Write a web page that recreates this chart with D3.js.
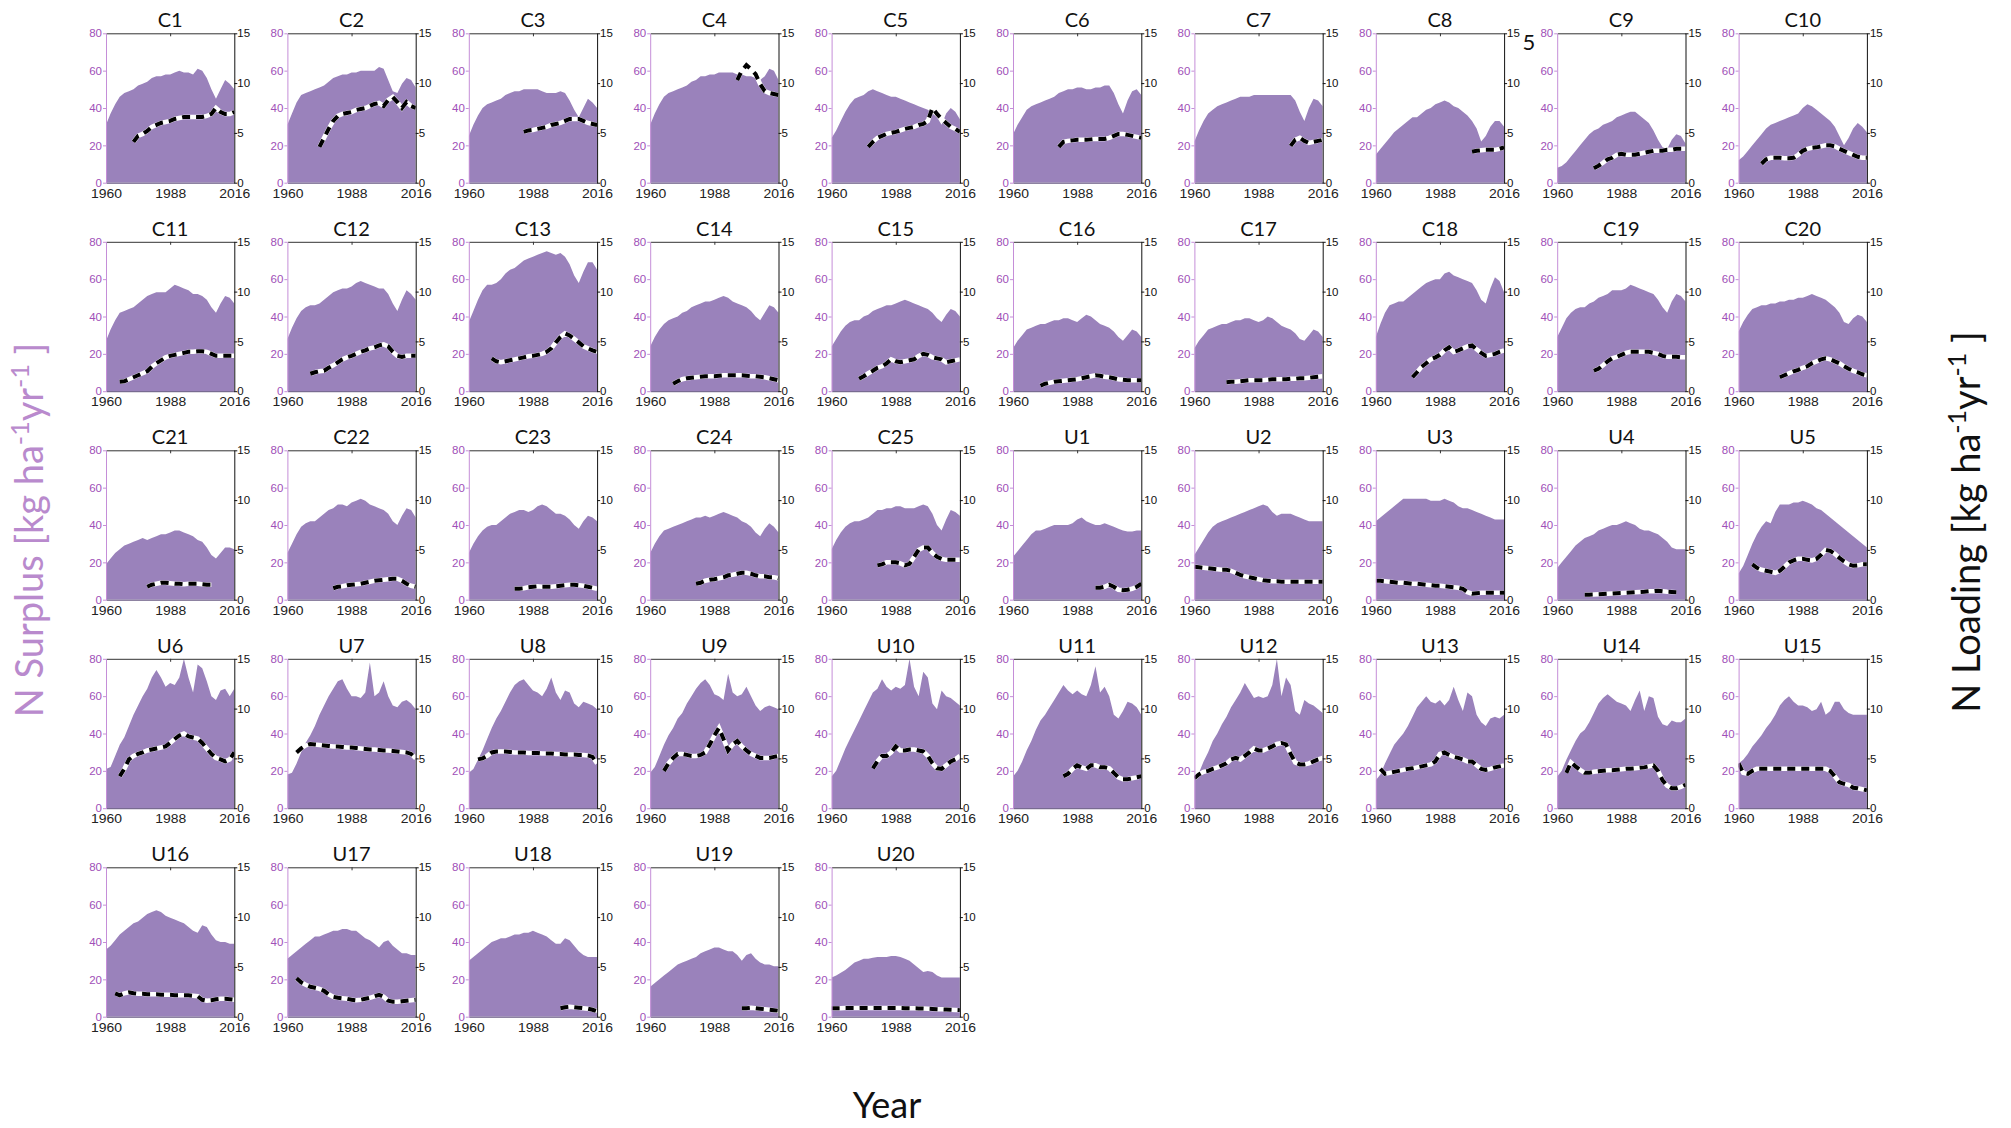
<!DOCTYPE html>
<html>
<head>
<meta charset="utf-8">
<title>N surplus and N loading</title>
<script src="https://cdn.jsdelivr.net/npm/d3@7"></script>
<style>
  body { margin: 0; background: #fff; }
  text { font-family: Lato, "Open Sans", sans-serif; }
  .num { font-family: "Liberation Sans", Arial, sans-serif; }
</style>
</head>
<body>
<script>
var _ = null;

var years = [1960,1962,1964,1966,1968,1970,1972,1974,1976,1978,1980,1982,1984,1986,1988,
             1990,1992,1994,1996,1998,2000,2002,2004,2006,2008,2010,2012,2014,2016];

var panels = ["C1","C2","C3","C4","C5","C6","C7","C8","C9","C10",
              "C11","C12","C13","C14","C15","C16","C17","C18","C19","C20",
              "C21","C22","C23","C24","C25","U1","U2","U3","U4","U5",
              "U6","U7","U8","U9","U10","U11","U12","U13","U14","U15",
              "U16","U17","U18","U19","U20"];

var leftTicks = [0, 20, 40, 60, 80];
var rightTicks = [0, 5, 10, 15];
var yearTicks = [1960, 1988, 2016];

// N surplus, kg/ha/yr (left axis)
var surplus = [
  [31,37,42,46,48,49,50,52,53,54,56,57,57,58,58,59,60,59,59,58,61,60,56,50,45,50,55,53,50],
  [31,37,43,47,48,49,50,51,52,54,56,57,58,58,59,59,60,60,60,60,62,61,55,49,48,53,56,55,51],
  [25,31,36,40,42,43,44,45,47,48,49,49,50,50,50,50,49,48,48,48,49,48,44,39,35,40,45,43,40],
  [31,37,42,46,48,49,50,51,52,54,55,57,57,58,58,59,59,59,59,58,58,57,57,56,55,57,61,60,55],
  [24,28,33,38,42,45,46,47,49,50,49,48,47,46,46,45,44,43,42,41,40,39,37,35,31,37,40,38,34],
  [26,31,35,39,41,42,43,44,45,46,48,49,50,50,51,51,50,50,51,51,52,52,48,42,37,44,49,50,47],
  [22,28,33,37,39,41,42,43,44,45,46,46,46,47,47,47,47,47,47,47,47,47,44,38,33,40,45,44,41],
  [15,18,21,24,27,29,31,33,35,35,37,39,40,42,43,44,43,41,40,38,36,33,29,22,25,30,33,33,30],
  [8,9,11,14,17,20,23,26,28,29,31,32,33,35,36,37,38,38,36,34,32,28,23,19,18,23,26,25,21],
  [12,14,17,20,23,26,29,31,32,33,34,35,36,37,40,42,41,39,37,35,33,30,25,20,24,29,32,30,27],
  [27,33,38,42,43,44,45,47,49,51,52,53,53,53,55,57,56,55,54,52,52,51,49,45,42,47,51,50,47],
  [28,34,39,43,45,46,46,47,49,51,53,54,55,55,56,58,59,58,57,56,55,55,52,47,43,49,54,52,49],
  [37,43,49,54,57,57,58,60,63,65,66,68,70,71,72,73,74,75,74,73,74,72,68,62,58,64,69,69,65],
  [24,29,33,36,38,39,40,42,43,45,46,47,48,48,49,50,51,50,48,47,46,45,43,40,38,42,46,45,42],
  [24,28,32,35,37,38,38,40,41,43,44,45,46,46,47,48,49,48,47,46,45,44,42,39,37,41,44,43,40],
  [23,27,30,33,34,35,36,36,37,38,38,39,39,38,37,39,41,40,38,36,35,34,32,29,27,30,33,32,29],
  [23,27,30,33,34,35,36,36,37,38,38,39,39,38,37,38,40,39,37,35,34,33,31,28,27,30,33,32,29],
  [29,36,42,46,47,48,48,50,52,54,56,58,59,60,60,63,64,62,61,60,59,58,54,49,47,55,61,59,53],
  [29,34,39,42,44,45,45,47,48,50,51,52,54,54,54,55,57,56,55,54,53,52,49,45,42,48,52,51,48],
  [32,37,41,44,45,46,46,47,47,48,48,49,49,50,50,51,52,51,50,49,47,45,42,37,36,39,41,40,37],
  [19,22,25,27,29,30,31,32,33,32,33,34,35,35,36,37,37,36,35,34,32,31,28,24,22,25,28,28,27],
  [25,30,35,39,41,42,42,44,46,48,49,51,51,50,52,53,54,53,51,50,49,48,46,42,40,45,49,48,44],
  [25,30,34,37,39,40,40,42,44,46,47,48,48,47,48,50,51,50,48,46,46,45,43,40,38,42,45,44,42],
  [25,30,34,37,38,39,40,41,42,43,44,44,45,44,45,46,47,46,45,44,42,41,39,36,34,38,41,39,36],
  [27,32,36,39,41,42,42,43,44,46,48,48,49,49,50,50,49,49,49,50,51,50,46,40,37,43,48,47,45],
  [23,26,29,32,35,37,37,38,39,40,40,40,40,41,43,44,42,41,40,40,41,40,39,38,37,36.5,36.5,37,37],
  [24,28,32,36,39,41,42,43,44,45,46,47,48,49,50,51,50,47,45,46,46,46,45,44,43,42,42,42,42],
  [42,44,46,48,50,52,54,54,54,54,54,54,53,53,53,54,53,52,50,49,49,48,47,46,45,44,43,43,43],
  [17,20,23,26,29,31,33,34,35,37,38,39,40,40,41,42,41,40,38,37,37,36,35,33,31,28,27,27,27],
  [14,18,24,30,35,39,42,41,47,51,51,51,52,52,53,52,51,49,48,46,44,42,40,38,36,34,32,30,28],
  [21,22,28,34,38,44,50,55,60,64,70,74,70,65,67,66,70,80,70,62,77,75,68,60,58,63,64,60,64],
  [18,19,24,30,35,39,44,50,55,60,64,68,69,64,60,60,59,62,78,60,62,68,60,55,54,57,58,56,53],
  [19,21,26,31,37,43,48,52,57,62,66,68,69,66,63,62,60,64,70,62,58,63,62,56,54,57,56,55,53],
  [19,22,28,34,39,43,48,51,56,60,64,67,69,66,61,60,58,72,62,60,61,65,60,55,52,54,55,54,53],
  [17,20,26,32,37,42,47,52,57,62,64,69,65,63,65,64,66,80,65,60,73,70,56,53,63,60,59,57,55],
  [17,20,25,31,36,42,47,50,54,58,62,66,63,61,63,61,60,66,76,62,65,60,50,48,52,57,56,54,50],
  [16,19,25,30,36,40,45,49,54,58,62,67,63,59,60,59,60,66,80,60,70,66,52,50,58,56,55,53,51],
  [15,18,24,29,34,37,40,44,49,54,57,60,57,56,58,55,58,65,58,52,62,60,50,46,44,48,49,48,50],
  [17,20,26,31,36,40,42,46,51,56,59,61,59,57,56,55,52,58,63,52,60,59,49,45,44,47,46,46,48],
  [24,26,29,33,36,39,43,46,50,55,58,60,57,55,55,54,52,53,57,50,52,57,57,53,51,50,50,50,50],
  [36,38,41,44,46,48,50,51,53,55,56,57,56,54,53,52,51,50,48,46,45,49,48,44,41,40,40,39,39],
  [31,33,35,37,39,41,43,43,44,45,46,46,47,47,46,46,44,42,41,39,37,40,41,38,36,34,34,33,33],
  [30,32,34,36,38,40,41,42,42,43,44,44,45,45,46,45,44,43,41,39,39,42,41,38,35,33,32,32,32],
  [16,18,20,22,24,26,28,29,30,31,32,34,35,36,37,37,36,35,35,33,30,33,34,31,29,28,28,27,27],
  [21,22,23.5,25,27,29,30,31,31,31.5,32,32,32,32.5,32.5,32,31,30,28,26,24,24.5,24,22,21,21,21,21,21]
];

// N loading, kg/ha/yr (right axis), null = no record
var loading = [
  [_,_,_,_,_,_,4.1,4.7,4.9,5.2,5.6,5.8,6.0,6.1,6.2,6.4,6.5,6.6,6.6,6.6,6.6,6.6,6.7,6.9,7.5,7.1,6.9,6.9,7.1],
  [_,_,_,_,_,_,_,3.6,4.5,5.4,6.2,6.7,6.9,7.0,7.1,7.3,7.4,7.5,7.7,7.9,8.0,7.7,8.3,8.6,8.1,7.5,8.1,7.7,7.5],
  [_,_,_,_,_,_,_,_,_,_,_,_,5.1,5.25,5.3,5.4,5.5,5.6,5.8,5.9,6.0,6.2,6.4,6.4,6.4,6.2,6.0,5.9,5.8],
  [_,_,_,_,_,_,_,_,_,_,_,_,_,_,_,_,_,_,_,10.3,11.25,11.8,11.4,10.9,9.9,9.2,9.0,8.9,8.8],
  [_,_,_,_,_,_,_,_,3.6,4.1,4.5,4.7,4.9,5.0,5.1,5.25,5.4,5.5,5.6,5.8,5.9,6.2,7.5,6.9,6.4,6.0,5.6,5.4,5.1],
  [_,_,_,_,_,_,_,_,_,_,3.6,4.1,4.2,4.25,4.3,4.3,4.3,4.35,4.4,4.4,4.4,4.5,4.7,4.9,4.9,4.8,4.7,4.6,4.5],
  [_,_,_,_,_,_,_,_,_,_,_,_,_,_,_,_,_,_,_,_,_,3.7,4.3,4.5,4.2,4.0,4.1,4.2,4.3],
  [_,_,_,_,_,_,_,_,_,_,_,_,_,_,_,_,_,_,_,_,_,3.1,3.2,3.25,3.3,3.3,3.3,3.4,3.55],
  [_,_,_,_,_,_,_,_,1.45,1.7,2.0,2.35,2.5,2.8,2.9,2.8,2.8,2.8,2.9,3.0,3.1,3.2,3.2,3.2,3.3,3.3,3.4,3.4,3.4],
  [_,_,_,_,_,1.9,2.35,2.5,2.5,2.5,2.45,2.45,2.5,2.8,3.2,3.4,3.5,3.55,3.65,3.75,3.75,3.65,3.4,3.2,3.0,2.8,2.6,2.5,2.5],
  [_,_,_,0.95,1.0,1.2,1.4,1.6,1.8,2.0,2.45,2.8,3.1,3.4,3.55,3.65,3.75,3.85,3.95,3.95,4.0,4.0,3.95,3.75,3.55,3.55,3.55,3.55,3.55],
  [_,_,_,_,_,1.75,1.9,2.0,2.05,2.35,2.6,2.9,3.2,3.4,3.55,3.75,3.95,4.1,4.3,4.4,4.6,4.7,4.5,3.95,3.55,3.45,3.55,3.55,3.55],
  [_,_,_,_,_,3.3,3.0,2.9,3.0,3.1,3.2,3.3,3.4,3.5,3.55,3.65,3.75,3.95,4.3,4.9,5.45,5.8,5.6,5.25,4.9,4.5,4.3,4.1,3.95],
  [_,_,_,_,_,0.75,1.0,1.2,1.3,1.35,1.4,1.45,1.5,1.5,1.5,1.55,1.6,1.6,1.6,1.6,1.6,1.55,1.5,1.5,1.45,1.4,1.3,1.2,1.1],
  [_,_,_,_,_,_,1.25,1.5,1.8,2.05,2.35,2.5,2.8,3.2,3.0,2.9,3.0,3.1,3.2,3.55,3.75,3.65,3.4,3.3,3.2,2.9,3.0,3.1,3.2],
  [_,_,_,_,_,_,0.55,0.75,0.85,0.95,1.0,1.05,1.1,1.15,1.2,1.3,1.4,1.5,1.6,1.55,1.45,1.4,1.3,1.2,1.15,1.1,1.1,1.1,1.1],
  [_,_,_,_,_,_,_,0.9,0.95,0.95,1.0,1.05,1.1,1.1,1.1,1.1,1.15,1.2,1.2,1.2,1.2,1.25,1.25,1.3,1.3,1.35,1.4,1.45,1.5],
  [_,_,_,_,_,_,_,_,1.4,1.9,2.45,2.8,3.2,3.4,3.65,4.1,4.4,3.95,4.1,4.3,4.5,4.6,4.2,3.85,3.55,3.65,3.75,3.95,4.1],
  [_,_,_,_,_,_,_,_,2.05,2.25,2.6,3.0,3.3,3.45,3.65,3.85,3.95,3.95,3.95,3.95,3.95,3.85,3.75,3.55,3.45,3.45,3.45,3.4,3.4],
  [_,_,_,_,_,_,_,_,_,1.4,1.6,1.8,2.0,2.15,2.35,2.5,2.8,3.0,3.2,3.3,3.2,3.0,2.8,2.5,2.25,2.05,1.9,1.7,1.6],
  [_,_,_,_,_,_,_,_,_,1.3,1.5,1.6,1.7,1.7,1.65,1.6,1.6,1.55,1.6,1.6,1.6,1.55,1.5,1.5,_,_,_,_,_],
  [_,_,_,_,_,_,_,_,_,_,1.15,1.3,1.35,1.45,1.5,1.55,1.6,1.7,1.8,1.9,1.95,2.0,2.05,2.1,2.1,1.9,1.6,1.4,1.3],
  [_,_,_,_,_,_,_,_,_,_,1.1,1.1,1.15,1.25,1.3,1.35,1.3,1.3,1.3,1.35,1.4,1.45,1.5,1.5,1.45,1.4,1.3,1.2,1.1],
  [_,_,_,_,_,_,_,_,_,_,1.6,1.7,1.9,2.0,2.05,2.15,2.25,2.45,2.5,2.6,2.7,2.7,2.6,2.45,2.35,2.35,2.25,2.25,2.15],
  [_,_,_,_,_,_,_,_,_,_,3.45,3.55,3.75,3.75,3.75,3.65,3.45,3.6,4.3,5.0,5.25,5.25,4.7,4.3,4.1,4.0,4.0,4.0,4.0],
  [_,_,_,_,_,_,_,_,_,_,_,_,_,_,_,_,_,_,1.2,1.2,1.3,1.5,1.3,1.0,0.95,1.0,1.1,1.3,1.6],
  [3.3,3.25,3.2,3.15,3.1,3.05,3.0,3.0,2.9,2.7,2.5,2.35,2.25,2.15,2.05,1.95,1.9,1.85,1.85,1.8,1.8,1.8,1.8,1.8,1.8,1.8,1.8,1.8,1.8],
  [1.9,1.9,1.85,1.8,1.75,1.7,1.7,1.65,1.6,1.6,1.55,1.5,1.45,1.4,1.4,1.35,1.3,1.25,1.2,1.1,0.75,0.6,0.65,0.7,0.7,0.7,0.7,0.7,0.7],
  [_,_,_,_,_,_,0.5,0.5,0.52,0.55,0.57,0.6,0.62,0.65,0.67,0.7,0.72,0.75,0.77,0.8,0.85,0.85,0.9,0.85,0.8,0.78,0.75,_,_],
  [_,_,_,3.55,3.2,3.0,2.9,2.8,2.7,2.9,3.3,3.75,3.95,4.1,4.1,4.0,3.95,4.1,4.5,5.0,4.9,4.6,4.2,3.85,3.55,3.4,3.45,3.55,3.55],
  [_,_,_,3.2,3.95,4.9,5.25,5.45,5.6,5.8,5.9,6.0,6.1,6.2,6.55,6.95,7.3,7.5,7.2,7.1,7.0,6.55,6.0,5.45,5.05,4.9,4.7,4.9,5.6],
  [_,_,5.6,6.0,6.3,6.45,6.4,6.35,6.3,6.25,6.2,6.2,6.15,6.1,6.1,6.05,6.0,5.95,5.9,5.9,5.85,5.8,5.8,5.75,5.7,5.65,5.6,5.45,5.0],
  [_,_,4.9,5.0,5.25,5.6,5.7,5.7,5.7,5.65,5.6,5.6,5.6,5.55,5.55,5.55,5.5,5.5,5.5,5.45,5.45,5.4,5.4,5.4,5.35,5.35,5.3,5.15,4.5],
  [_,_,_,3.75,4.5,5.05,5.45,5.45,5.35,5.25,5.25,5.35,5.6,6.4,7.3,8.05,6.95,5.8,6.4,6.75,6.2,5.8,5.45,5.25,5.05,5.05,5.05,5.15,5.25],
  [_,_,_,_,_,_,_,_,_,4.0,4.7,5.25,5.25,5.6,6.2,5.8,5.8,5.9,5.9,5.8,5.7,5.25,4.5,4.0,3.95,4.3,4.7,4.9,5.25],
  [_,_,_,_,_,_,_,_,_,_,_,3.2,3.45,3.95,4.3,4.1,3.95,4.3,4.3,4.1,4.1,4.0,3.55,3.1,2.9,2.9,3.0,3.1,3.2],
  [3.0,3.4,3.65,3.75,3.95,4.1,4.3,4.5,4.9,5.05,4.9,5.25,5.6,6.0,5.8,5.8,6.0,6.2,6.45,6.55,6.4,5.45,4.6,4.4,4.4,4.5,4.7,4.9,5.05],
  [_,3.95,3.45,3.55,3.65,3.75,3.85,3.95,4.0,4.1,4.2,4.3,4.4,4.7,5.45,5.6,5.35,5.15,5.05,4.9,4.7,4.7,4.3,3.95,3.85,3.95,4.1,4.2,4.3],
  [_,_,3.55,4.6,4.2,3.85,3.55,3.55,3.65,3.7,3.75,3.8,3.8,3.85,3.9,3.95,3.95,4.0,4.05,4.1,4.2,4.3,3.75,2.8,2.25,2.0,2.0,2.15,2.35],
  [4.5,3.55,3.45,3.75,3.95,3.95,3.95,3.95,3.95,3.95,3.95,3.95,3.95,3.95,3.95,3.95,3.95,3.95,3.95,3.95,3.75,3.2,2.6,2.45,2.35,2.05,2.0,1.9,1.8],
  [_,_,2.35,2.15,2.35,2.45,2.35,2.3,2.3,2.25,2.25,2.25,2.2,2.2,2.2,2.15,2.15,2.15,2.15,2.1,2.05,1.7,1.6,1.65,1.75,1.8,1.8,1.75,1.7],
  [_,_,3.85,3.45,3.2,3.0,2.9,2.8,2.6,2.25,2.0,1.9,1.85,1.8,1.7,1.65,1.7,1.8,1.9,2.05,2.2,2.0,1.6,1.5,1.5,1.55,1.6,1.65,1.7],
  [_,_,_,_,_,_,_,_,_,_,_,_,_,_,_,_,_,_,_,_,0.85,0.95,1.0,0.95,0.9,0.85,0.8,0.7,0.55],
  [_,_,_,_,_,_,_,_,_,_,_,_,_,_,_,_,_,_,_,_,0.85,0.85,0.9,0.85,0.8,0.75,0.7,0.65,0.6],
  [0.85,0.85,0.85,0.87,0.87,0.87,0.87,0.88,0.88,0.88,0.88,0.88,0.88,0.88,0.88,0.87,0.86,0.85,0.84,0.83,0.82,0.8,0.78,0.76,0.74,0.72,0.7,0.68,0.66]
];

var W = 2011, H = 1128;
var colX0 = 106, colStep = 181.4, rowY0 = 33.3, rowStep = 208.5;
var pw = 128.3, ph = 149.4;

var areaFill = "#9a82bb",
    purpleAxis = "#c58ed8",
    purpleText = "#a050b8",
    purpleLabel = "#b98acd";

var svg = d3.select("body").append("svg")
    .attr("width", W)
    .attr("height", H);

svg.append("clipPath").attr("id", "plotclip")
  .append("rect").attr("width", pw).attr("height", ph);

var x = d3.scaleLinear().domain([1960, 2016]).range([0, pw]);
var yL = d3.scaleLinear().domain([0, 80]).range([ph, 0]);
var yR = d3.scaleLinear().domain([0, 15]).range([ph, 0]);

var area = d3.area()
    .x(function(d, i) { return x(years[i]); })
    .y0(ph)
    .y1(function(d) { return yL(d); });

var line = d3.line()
    .defined(function(d) { return d != null; })
    .x(function(d, i) { return x(years[i]); })
    .y(function(d) { return yR(d); });

panels.forEach(function(name, i) {
    var col = i % 10, row = Math.floor(i / 10);
    var g = svg.append("g")
        .attr("transform", "translate(" + (colX0 + col * colStep) + "," + (rowY0 + row * rowStep) + ")");

    var plot = g.append("g").attr("clip-path", "url(#plotclip)");
    plot.append("path")
        .attr("d", area(surplus[i]))
        .attr("fill", areaFill);
    plot.append("path")
        .attr("d", line(loading[i]))
        .attr("fill", "none")
        .attr("stroke", "#fff")
        .attr("stroke-width", 4.5);
    plot.append("path")
        .attr("d", line(loading[i]))
        .attr("fill", "none")
        .attr("stroke", "#000")
        .attr("stroke-width", 4)
        .attr("stroke-dasharray", "8,6");

    // top frame with inward tick
    var top = g.append("g").call(d3.axisTop(x).tickValues([1988]).tickSize(-3).tickSizeOuter(0).tickFormat(""));
    top.select(".domain").attr("stroke", "#333");
    top.selectAll(".tick line").attr("stroke", "#333");

    // bottom
    var bot = g.append("g").attr("transform", "translate(0," + ph + ")")
        .call(d3.axisBottom(x).tickValues(yearTicks).tickSize(0).tickPadding(6).tickFormat(d3.format("d")));
    bot.select(".domain").attr("stroke", "#5a4a78");
    bot.selectAll("text")
        .attr("class", "num")
        .attr("font-size", 12.5)
        .attr("fill", "#222")
        .attr("textLength", 31)
        .attr("lengthAdjust", "spacingAndGlyphs");

    // left axis (surplus)
    var la = g.append("g")
        .call(d3.axisLeft(yL).tickValues(leftTicks).tickSize(3).tickSizeOuter(0).tickPadding(1));
    la.select(".domain").attr("stroke", purpleAxis);
    la.selectAll(".tick line").attr("stroke", purpleAxis);
    la.selectAll("text").attr("class", "num").attr("font-size", 11.5).attr("fill", purpleText);

    // right axis (loading)
    var ra = g.append("g").attr("transform", "translate(" + pw + ",0)")
        .call(d3.axisRight(yR).tickValues(rightTicks).tickSize(3).tickSizeOuter(0).tickPadding(0));
    ra.select(".domain").attr("stroke", "#111");
    ra.selectAll(".tick line").attr("stroke", "#111");
    ra.selectAll("text").attr("class", "num").attr("font-size", 11.5).attr("fill", "#111");

    g.append("text")
        .attr("x", pw / 2)
        .attr("y", -6)
        .attr("text-anchor", "middle")
        .attr("font-size", 20)
        .attr("fill", "#111")
        .text(name);
});

// stray glyph next to the C8 right axis in the original figure
svg.append("text")
    .attr("x", 1529).attr("y", 50)
    .attr("text-anchor", "middle")
    .attr("font-size", 22)
    .attr("fill", "#111")
    .text("5");

function sideLabel(txt, cx, cy, color) {
    var t = svg.append("text")
        .attr("transform", "translate(" + cx + "," + cy + ") rotate(-90)")
        .attr("text-anchor", "middle")
        .attr("font-size", 38)
        .attr("fill", color);
    t.append("tspan").text(txt + " [kg ha");
    t.append("tspan").attr("dy", -14).attr("font-size", 25).text("-1");
    t.append("tspan").attr("dy", 14).text("yr");
    t.append("tspan").attr("dy", -14).attr("font-size", 25).text("-1");
    t.append("tspan").attr("dy", 14).text(" ]");
}
sideLabel("N Surplus", 43, 530, purpleLabel);
sideLabel("N Loading", 1980, 522, "#111");

svg.append("text")
    .attr("x", 887).attr("y", 1118)
    .attr("text-anchor", "middle")
    .attr("font-size", 36)
    .attr("fill", "#111")
    .text("Year");
</script>
</body>
</html>
